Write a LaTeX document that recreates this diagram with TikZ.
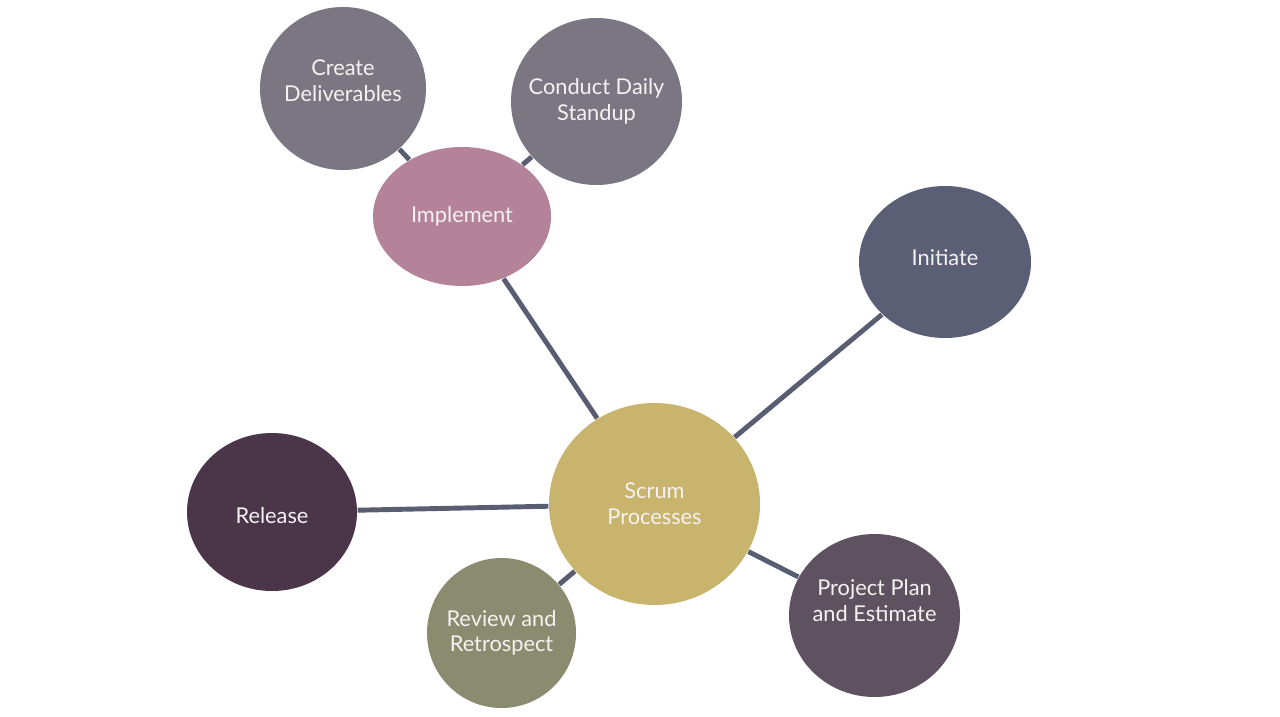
\documentclass[tikz,border=0pt]{standalone}
\usepackage{fontspec}
\setmainfont{Lato}
\usetikzlibrary{shapes.geometric,positioning}
\definecolor{greyc}{HTML}{7A7682}
\definecolor{implc}{HTML}{B48299}
\definecolor{initc}{HTML}{5B5F75}
\definecolor{scrumc}{HTML}{C8B46D}
\definecolor{relc}{HTML}{4A3549}
\definecolor{revc}{HTML}{8B8B6F}
\definecolor{ppec}{HTML}{5F5260}
\definecolor{linkc}{HTML}{585D72}
\definecolor{txtc}{HTML}{F6F2F2}
\tikzset{
  bub/.style={ellipse, inner sep=0pt},
  txt/.style={text=txtc, align=center, font=\fontsize{6.2}{7.3}\selectfont},
  link/.style={draw=linkc, line width=1.4pt},
}

\begin{document}
\begin{tikzpicture}[x=1cm, y=-1cm]
  \useasboundingbox[fill=white] (0,0) rectangle (12.8,7.16);
  % centre and its five phases
  \node[bub, fill=scrumc, minimum width=2.11cm, minimum height=2.02cm,
    label={[txt]center:Scrum\\Processes}] (scrum) at (6.545,5.04) {};
  \node[bub, fill=initc, minimum width=1.72cm, minimum height=1.52cm,
    label={[txt, yshift=1.3pt]center:Initiate}] (init) at (9.45,2.62) {};
  \node[bub, fill=ppec, minimum width=1.71cm, minimum height=1.63cm,
    label={[txt, yshift=4.2pt]center:Project Plan\\and Estimate}] (ppe) at (8.745,6.155) {};
  \node[bub, fill=implc, minimum width=1.78cm, minimum height=1.39cm,
    label={[txt]center:Implement}] (impl) at (4.62,2.165) {};
  \node[bub, fill=revc, minimum width=1.49cm, minimum height=1.50cm,
    label={[txt]center:Review and\\Retrospect}] (rev) at (5.015,6.33) {};
  \node[bub, fill=relc, minimum width=1.70cm, minimum height=1.58cm,
    label={[txt, yshift=-1.1pt]center:Release}] (rel) at (2.72,5.12) {};
  % sub-steps of implement
  \node[bub, fill=greyc, minimum width=1.66cm, minimum height=1.63cm,
    label={[txt, yshift=2.2pt]center:Create\\Deliverables}] (cdel) at (3.43,0.885) {};
  \node[bub, fill=greyc, minimum width=1.71cm, minimum height=1.67cm,
    label={[txt]center:Conduct Daily\\Standup}] (dstand) at (5.965,1.015) {};
  \foreach \a/\b in {scrum/init, scrum/ppe, scrum/impl, scrum/rev, scrum/rel, impl/cdel, impl/dstand}
    \draw[link] (\a) -- (\b);
\end{tikzpicture}
\end{document}
